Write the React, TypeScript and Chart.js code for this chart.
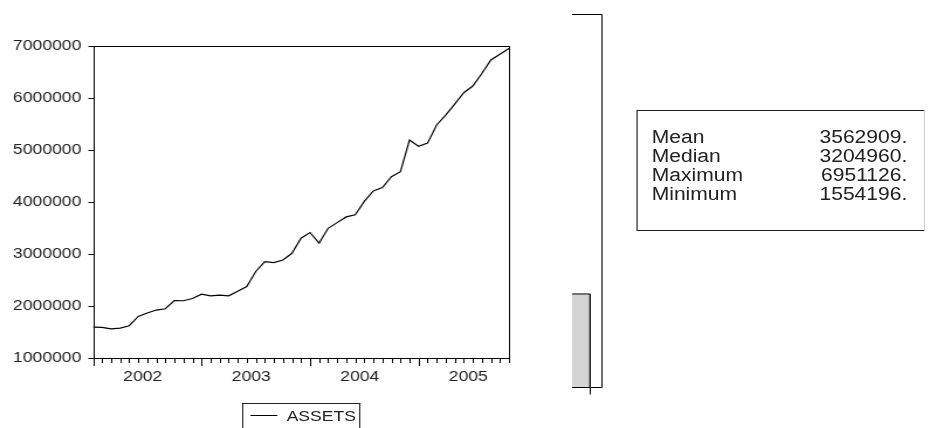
import React, { useEffect, useRef } from 'react';
import { Chart, registerables } from 'chart.js';

Chart.register(...registerables);

// ---------- data ----------
const months: string[] = [];
for (let y = 2002; y <= 2005; y++) {
  for (let m = 1; m <= 12; m++) {
    if (y === 2005 && m > 11) break;
    months.push(`${y}M${m < 10 ? '0' + m : m}`);
  }
}

const yearLabels = ['2002', '2003', '2004', '2005'];

const assets = [
  1590000, 1583000, 1554196, 1570000, 1615000, 1794000, 1860000, 1917000, 1942000, 2100000, 2096000, 2140000,
  2223000, 2190000, 2205000, 2190000, 2280000, 2370000, 2660000, 2850000, 2830000, 2880000, 3010000, 3300000,
  3410000, 3204960, 3490000, 3600000, 3710000, 3750000, 4010000, 4210000, 4275000, 4485000, 4580000, 5190000,
  5070000, 5130000, 5480000, 5670000, 5880000, 6100000, 6230000, 6470000, 6730000, 6840000, 6951126,
];

const histBinEdges = [6500000, 7000000];
const histCounts = [3];

const statNames = ['Mean', 'Median', 'Maximum', 'Minimum'];
const statValues = ['3562909.', '3204960.', '6951126.', '1554196.'];

const legendLabel = 'ASSETS';

// ---------- styling ----------
const FONT = "'Liberation Sans', Arial, Helvetica, sans-serif";
const K = 1.17; // horizontal stretch of the reference picture
const TEXT = '#222';

const mainFramePlugin = {
  id: 'mainFrame',
  afterDraw(chart: any) {
    const { ctx, chartArea: a, scales } = chart;
    ctx.save();
    ctx.strokeStyle = '#000';
    ctx.lineWidth = 1;
    const L = Math.round(a.left) + 0.5;
    const R = Math.round(a.right) + 0.5;
    const T = Math.round(a.top) + 0.5;
    const B = Math.round(a.bottom) + 0.5;
    ctx.strokeRect(L, T, R - L, B - T);
    ctx.beginPath();
    const xs = scales.x;
    months.forEach((m, i) => {
      const px = Math.round(xs.getPixelForValue(i)) + 0.5;
      const len = m.endsWith('M01') ? 7.5 : 4.5;
      ctx.moveTo(px, B);
      ctx.lineTo(px, B + len);
    });
    const ys = scales.y;
    ys.ticks.forEach((t: any) => {
      const py = Math.round(ys.getPixelForValue(t.value)) + 0.5;
      ctx.moveTo(L - 5, py);
      ctx.lineTo(L, py);
    });
    ctx.stroke();
    ctx.restore();
  },
};

const histFramePlugin = {
  id: 'histFrame',
  afterDraw(chart: any) {
    const { ctx, chartArea: a, scales } = chart;
    ctx.save();
    ctx.strokeStyle = '#000';
    ctx.lineWidth = 1;
    const L = Math.round(a.left);
    const R = Math.round(a.right) + 0.5;
    const T = Math.round(a.top) + 0.5;
    const B = Math.round(a.bottom) + 0.5;
    ctx.beginPath();
    ctx.moveTo(L, T);
    ctx.lineTo(R, T);
    ctx.lineTo(R, B);
    ctx.lineTo(L, B);
    const tx = Math.round(scales.x.getPixelForValue(histBinEdges[histBinEdges.length - 1])) + 0.5;
    ctx.moveTo(tx, B);
    ctx.lineTo(tx, B + 7);
    ctx.stroke();
    ctx.restore();
  },
};

export default function App() {
  const mainRef = useRef<HTMLCanvasElement>(null);
  const histRef = useRef<HTMLCanvasElement>(null);

  useEffect(() => {
    const main = new Chart(mainRef.current!, {
      type: 'line',
      data: {
        datasets: [
          {
            label: legendLabel,
            data: assets.map((v, i) => ({ x: i, y: v })),
            borderColor: '#000',
            borderWidth: 1.2,
            pointRadius: 0,
            tension: 0,
            fill: false,
          },
        ],
      },
      options: {
        animation: false,
        responsive: false,
        devicePixelRatio: 1,
        layout: { padding: { left: 0, right: 25, top: 46, bottom: 0 } },
        plugins: { legend: { display: false }, tooltip: { enabled: false }, title: { display: false } },
        scales: {
          x: {
            type: 'linear',
            min: 0,
            max: months.length - 1,
            grid: { display: false, drawTicks: false },
            border: { display: false },
            ticks: {
              autoSkip: false,
              maxRotation: 0,
              padding: 10,
              color: TEXT,
              font: { family: FONT, size: 15 },
              callback: (v: any) => yearLabels[Math.floor(Number(v) / 12)] ?? '',
            },
            afterBuildTicks: (s: any) => {
              s.ticks = yearLabels.map((_, j) => ({ value: j * 12 + 5.5 }));
            },
            afterFit: (s: any) => {
              s.height = 70.3;
            },
          },
          y: {
            type: 'linear',
            min: 1000000,
            max: 7000000,
            grid: { display: false, drawTicks: false },
            border: { display: false },
            ticks: {
              stepSize: 1000000,
              padding: 10,
              color: TEXT,
              font: { family: FONT, size: 15 },
              callback: (v: any) => String(v),
            },
            afterFit: (s: any) => {
              s.width = 79.5;
            },
          },
        },
      },
      plugins: [mainFramePlugin],
    } as any);

    const histPoints: { x: number; y: number }[] = [];
    histCounts.forEach((c, j) => {
      histPoints.push({ x: histBinEdges[j], y: c });
      histPoints.push({ x: histBinEdges[j + 1], y: c });
    });
    histPoints.push({ x: histBinEdges[histBinEdges.length - 1], y: 0 });

    const hist = new Chart(histRef.current!, {
      type: 'line',
      data: {
        datasets: [
          {
            label: 'hist',
            data: histPoints,
            borderColor: '#000',
            borderWidth: 1,
            backgroundColor: '#d4d4d4',
            fill: 'origin',
            pointRadius: 0,
            tension: 0,
          },
        ],
      },
      options: {
        animation: false,
        responsive: false,
        devicePixelRatio: 1,
        layout: { padding: { left: 18.9, right: 16.3, top: 14, bottom: 40.7 } },
        plugins: { legend: { display: false }, tooltip: { enabled: false } },
        scales: {
          x: { type: 'linear', min: 6500000, max: 7300000, display: false },
          y: { type: 'linear', min: 0, max: 12, display: false },
        },
      },
      plugins: [histFramePlugin],
    } as any);

    return () => {
      main.destroy();
      hist.destroy();
    };
  }, []);

  return (
    <div
      style={{
        position: 'absolute',
        left: 0,
        top: 0,
        width: 790,
        height: 428,
        overflow: 'hidden',
        transform: `scaleX(${K})`,
        transformOrigin: '0 0',
        fontFamily: FONT,
        color: TEXT,
      }}
    >
      <canvas
        ref={mainRef}
        width={460}
        height={428}
        style={{ position: 'absolute', left: 0, top: 0, width: 460, height: 428 }}
      />
      <canvas
        ref={histRef}
        width={60}
        height={428}
        style={{ position: 'absolute', left: 470, top: 0, width: 60, height: 428 }}
      />
      <div
        style={{
          position: 'absolute',
          left: 544.4,
          top: 110,
          width: 247.1,
          height: 120.7,
          boxSizing: 'border-box',
          border: `1px solid ${TEXT}`,
          paddingTop: 16.7,
          paddingLeft: 11.6,
          paddingRight: 15,
          fontSize: 18,
          lineHeight: '19px',
        }}
      >
        {statNames.map((n, i) => (
          <div key={n} style={{ display: 'flex', justifyContent: 'space-between' }}>
            <span>{n}</span>
            <span>{statValues[i]}</span>
          </div>
        ))}
      </div>
      <div
        style={{
          position: 'absolute',
          left: 206.6,
          top: 402.7,
          width: 101.7,
          height: 25.3,
          boxSizing: 'border-box',
          borderTop: `1px solid ${TEXT}`,
          borderLeft: `1px solid ${TEXT}`,
          borderRight: `1px solid ${TEXT}`,
        }}
      >
        <div
          style={{ position: 'absolute', left: 6.1, top: 11.3, width: 23.3, height: 0, borderTop: '1px solid #000' }}
        />
        <div style={{ position: 'absolute', left: 37.4, top: 4, fontSize: 15, lineHeight: '15px' }}>{legendLabel}</div>
      </div>
    </div>
  );
}
